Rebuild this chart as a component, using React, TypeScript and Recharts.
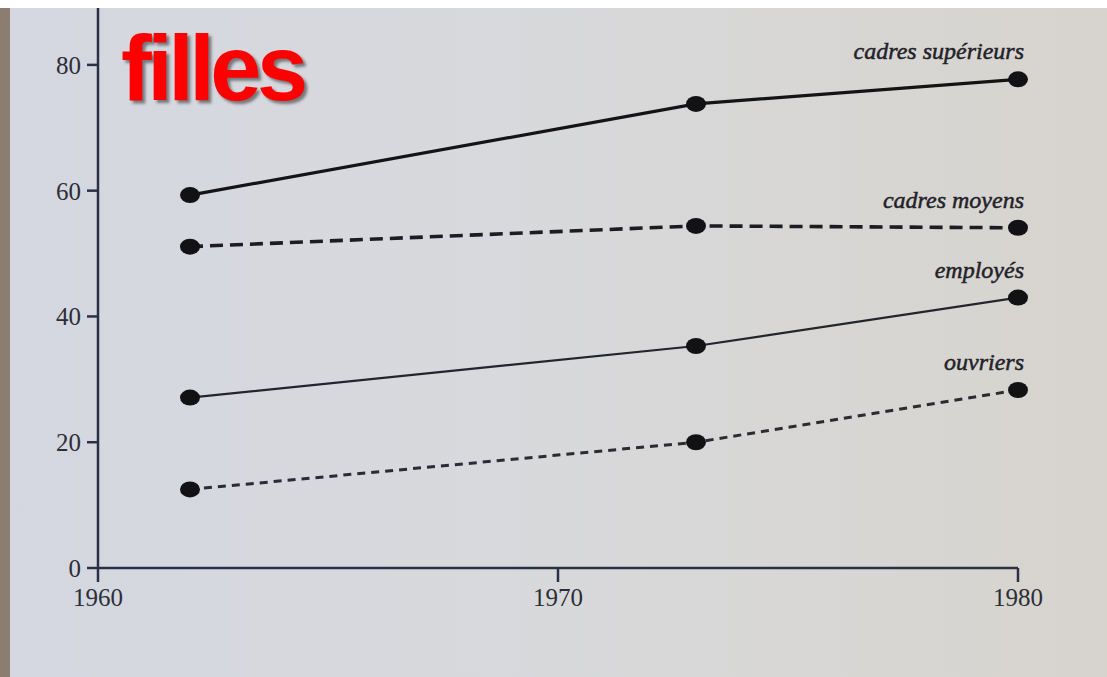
import { LineChart, Line, XAxis, YAxis, LabelList } from 'recharts';

const YEARS = [1962, 1973, 1980];
const CADRES_SUP = [59.3, 73.8, 77.7];
const CADRES_MOY = [51.1, 54.4, 54.1];
const EMPLOYES = [27.1, 35.3, 43.0];
const OUVRIERS = [12.5, 20.0, 28.3];
const X_TICKS = [1960, 1970, 1980];
const Y_TICKS = [0, 20, 40, 60, 80];

const SERIES = [
  { key: 'sup', label: 'cadres supérieurs', width: 3.2, dash: undefined, color: '#141417' },
  { key: 'moy', label: 'cadres moyens', width: 3.6, dash: '13 7', color: '#1c1c22' },
  { key: 'emp', label: 'employés', width: 2.2, dash: undefined, color: '#24252c' },
  { key: 'ouv', label: 'ouvriers', width: 3, dash: '8 6', color: '#2a2b33' }
];

const data = YEARS.map((year, i) => ({
  year,
  sup: CADRES_SUP[i],
  moy: CADRES_MOY[i],
  emp: EMPLOYES[i],
  ouv: OUVRIERS[i]
}));

const AXIS = '#2b3047';
const TEXT = '#2c2e36';

const renderDot = (p: any) => {
  if (p.cx == null || p.cy == null) return <g key={p.index} />;
  return <ellipse key={p.index} cx={p.cx} cy={p.cy} rx={10} ry={8} fill="#121215" />;
};

const endLabel = (text: string) => (p: any) => {
  if (p.index !== YEARS.length - 1) return null;
  return (
    <text
      x={Number(p.x) + 6}
      y={Number(p.y) - 20}
      textAnchor="end"
      fontFamily="'Liberation Serif', serif"
      fontStyle="italic"
      fontSize={24}
      fill="#222228"
      stroke="#222228"
      strokeWidth={0.5}
    >
      {text}
    </text>
  );
};

export default function App() {
  return (
    <div
      style={{
        position: 'relative',
        width: 1107,
        height: 677,
        overflow: 'hidden',
        background: 'linear-gradient(90deg, #d4d7e0 0%, #d8d9dc 45%, #d7d4ce 100%)'
      }}
    >
      <style>{'body{margin:0}'}</style>
      <LineChart
        width={1107}
        height={677}
        data={data}
        margin={{ top: 2, right: 89, bottom: 69, left: 0 }}
      >
        <XAxis
          dataKey="year"
          type="number"
          domain={[1960, 1980]}
          ticks={X_TICKS}
          height={40}
          axisLine={{ stroke: AXIS, strokeWidth: 2.5 }}
          tickLine={{ stroke: AXIS, strokeWidth: 2.5 }}
          tickSize={14}
          tickMargin={6}
          tick={{ fill: TEXT, fontSize: 25, fontFamily: "'Liberation Serif', serif" }}
        />
        <YAxis
          type="number"
          domain={[0, 90]}
          ticks={Y_TICKS}
          width={98}
          axisLine={{ stroke: AXIS, strokeWidth: 2.5 }}
          tickLine={{ stroke: AXIS, strokeWidth: 2.5 }}
          tickSize={11}
          tickMargin={6}
          tick={{ fill: TEXT, fontSize: 25, fontFamily: "'Liberation Serif', serif" }}
        />
        {SERIES.map((s) => (
          <Line
            key={s.key}
            type="linear"
            dataKey={s.key}
            stroke={s.color}
            strokeWidth={s.width}
            strokeDasharray={s.dash}
            dot={renderDot}
            activeDot={false}
            isAnimationActive={false}
          >
            <LabelList dataKey={s.key} content={endLabel(s.label)} />
          </Line>
        ))}
      </LineChart>
      <div
        style={{
          position: 'absolute',
          left: 121,
          top: 22,
          fontFamily: "'Liberation Sans', Arial, sans-serif",
          fontWeight: 700,
          fontSize: 92,
          letterSpacing: -4.5,
          color: '#ff0000',
          lineHeight: 1,
          textShadow: '3px 3px 3px rgba(0,0,0,0.45)'
        }}
      >
        filles
      </div>
      <div style={{ position: 'absolute', left: 0, top: 0, width: 1107, height: 8, background: '#ffffff' }} />
      <div style={{ position: 'absolute', left: 0, top: 8, width: 10, height: 669, background: '#8b7e70' }} />
    </div>
  );
}
